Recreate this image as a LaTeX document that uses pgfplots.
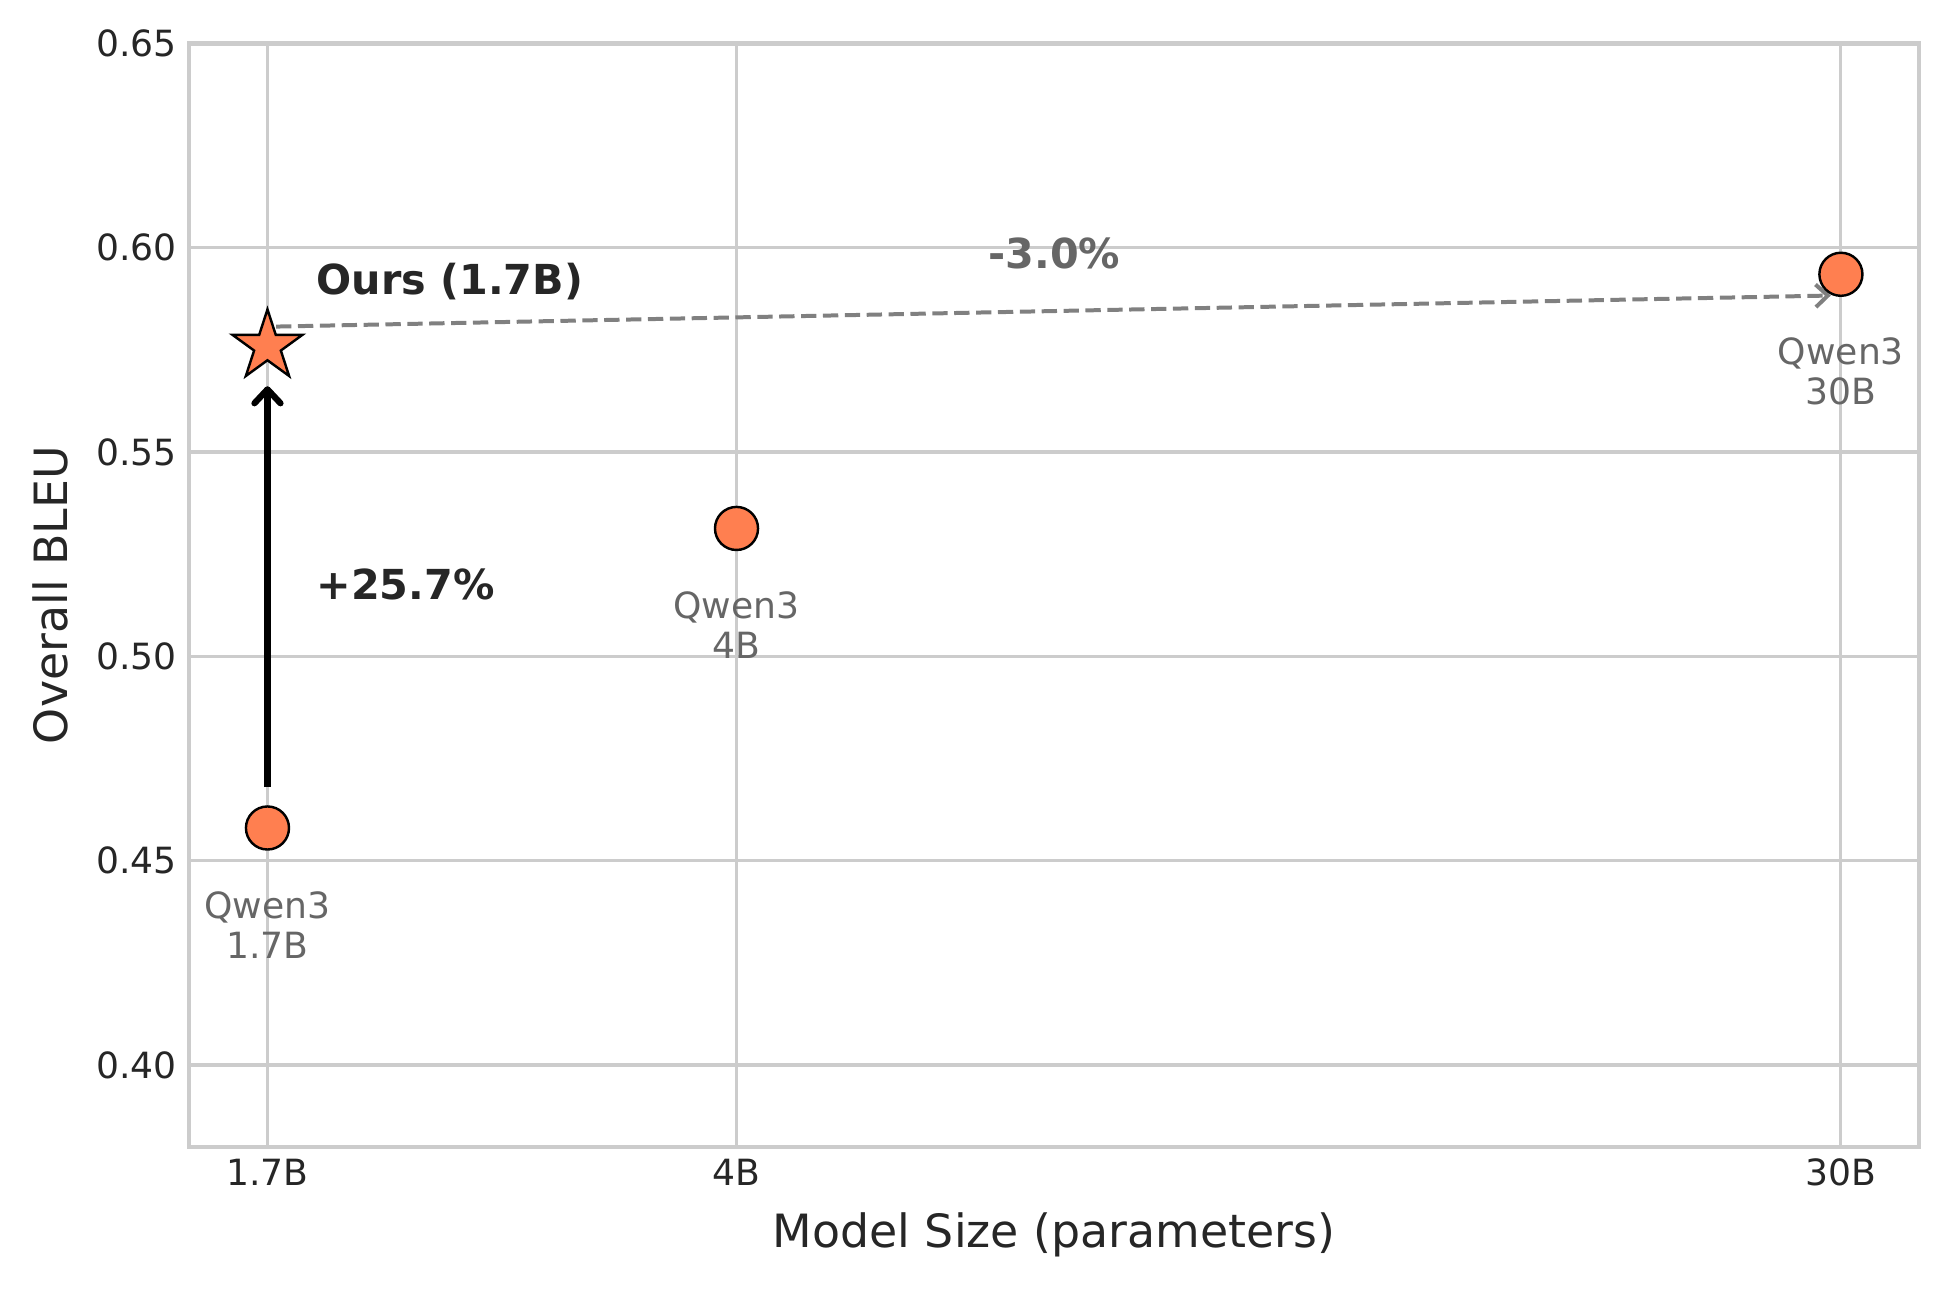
\documentclass[border=0pt]{standalone}
\usepackage{fontspec}
\setmainfont{DejaVu Sans}
\usepackage{pgfplots}
\pgfplotsset{compat=1.18}
\usetikzlibrary{arrows.meta}
\definecolor{coral}{HTML}{FF7F50}
\definecolor{txt}{HTML}{262626}
\definecolor{gridc}{HTML}{CCCCCC}
\definecolor{lbl}{HTML}{666666}
\definecolor{arrg}{HTML}{808080}

\pgfdeclareplotmark{fstar}{%
  \pgfmathsetlengthmacro\rin{0.382*\pgfplotmarksize}%
  \pgfpathmoveto{\pgfpointpolar{90}{\pgfplotmarksize}}%
  \pgfpathlineto{\pgfpointpolar{126}{\rin}}%
  \pgfpathlineto{\pgfpointpolar{162}{\pgfplotmarksize}}%
  \pgfpathlineto{\pgfpointpolar{198}{\rin}}%
  \pgfpathlineto{\pgfpointpolar{234}{\pgfplotmarksize}}%
  \pgfpathlineto{\pgfpointpolar{270}{\rin}}%
  \pgfpathlineto{\pgfpointpolar{306}{\pgfplotmarksize}}%
  \pgfpathlineto{\pgfpointpolar{342}{\rin}}%
  \pgfpathlineto{\pgfpointpolar{18}{\pgfplotmarksize}}%
  \pgfpathlineto{\pgfpointpolar{54}{\rin}}%
  \pgfpathclose
  \pgfusepathqfillstroke
}

\begin{document}
\begin{tikzpicture}
\useasboundingbox (-54.4pt,-41.3pt) rectangle (507.1pt,330.2pt);
\begin{axis}[
  scale only axis,
  width=498.2pt, height=317.7pt,
  xmode=log,
  xmin=1.473, xmax=34.6,
  ymin=0.38, ymax=0.65,
  xtick={1.7,4,30},
  xticklabels={1.7B,4B,30B},
  ytick={0.40,0.45,0.50,0.55,0.60,0.65},
  yticklabels={0.40,0.45,0.50,0.55,0.60,0.65},
  minor xtick={},
  log basis x=10,
  major tick length=0pt,
  minor tick length=0pt,
  grid=major,
  major grid style={gridc, line width=0.9pt},
  axis line style={gridc, line width=1.25pt},
  ticklabel style={font=\fontsize{10.4}{12}\selectfont, text=txt},
  xlabel={Model Size (parameters)},
  ylabel={Overall BLEU},
  label style={font=\fontsize{13.2}{15}\selectfont, text=txt},
  xlabel style={at={(axis description cs:0.5,-0.0803)}, anchor=center},
  ylabel style={at={(axis description cs:-0.0803,0.5)}, anchor=center},
  clip=false,
]
% arrows
\draw[black, line width=1.8pt, -{Straight Barb[length=4pt,width=7.5pt,round]}] (axis cs:1.7,0.468) -- (axis cs:1.7,0.5661);
\draw[arrg, line width=1.15pt, dash pattern=on 4.4pt off 1.9pt, -{Straight Barb[length=3.5pt,width=6.5pt]}] (axis cs:1.727,0.5807) -- (axis cs:29.45,0.5883);
% points
\addplot[only marks, mark=*, mark size=6.2pt, mark options={fill=coral, draw=black, line width=0.7pt}] coordinates {(1.7,0.458) (4,0.5313) (30,0.5935)};
\addplot[only marks, mark=fstar, mark size=10.6pt, mark options={fill=coral, draw=black, line width=0.7pt}] coordinates {(1.7,0.5759)};
% labels
\node[lbl, align=center, font=\fontsize{10.4}{11.6}\selectfont] at (axis cs:1.7,0.4342) {Qwen3\\1.7B};
\node[lbl, align=center, font=\fontsize{10.4}{11.6}\selectfont] at (axis cs:4,0.5076) {Qwen3\\4B};
\node[lbl, align=center, font=\fontsize{10.4}{11.6}\selectfont] at (axis cs:30,0.5698) {Qwen3\\30B};
\node[txt, anchor=west, inner sep=0pt, font=\fontsize{11.9}{14}\selectfont\bfseries] at (axis cs:1.857,0.5917) {Ours (1.7B)};
\node[txt, anchor=west, inner sep=0pt, font=\fontsize{11.9}{14}\selectfont\bfseries] at (axis cs:1.857,0.5176) {+25.7\%};
\node[lbl, anchor=center, inner sep=0pt, font=\fontsize{11.9}{14}\selectfont\bfseries] at (axis cs:7.145,0.5985) {-3.0\%};
\end{axis}
\end{tikzpicture}
\end{document}
